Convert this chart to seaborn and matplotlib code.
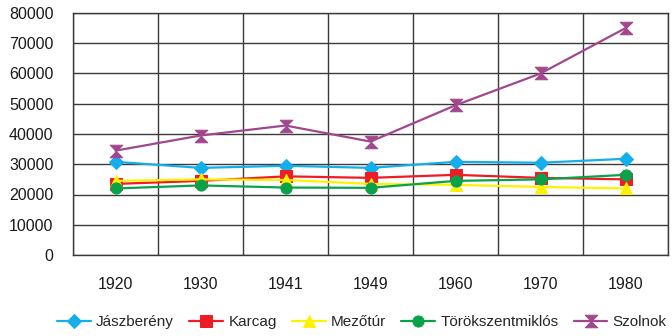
import numpy as np
import pandas as pd
import matplotlib
matplotlib.use("Agg")
import matplotlib.pyplot as plt
from matplotlib.path import Path
import seaborn as sns

years = ["1920", "1930", "1941", "1949", "1960", "1970", "1980"]
jaszbereny = [30800, 28800, 29500, 28800, 30800, 30500, 31800]
karcag = [23500, 24500, 26000, 25500, 26500, 25500, 25000]
mezotur = [24500, 25000, 24800, 23500, 23200, 22500, 22000]
torokszentmiklos = [22000, 23000, 22300, 22200, 24500, 25000, 26500]
szolnok = [34500, 39500, 42800, 37500, 49500, 60000, 75000]

series_names = ["Jászberény", "Karcag", "Mezőtúr", "Törökszentmiklós", "Szolnok"]
series_values = [jaszbereny, karcag, mezotur, torokszentmiklos, szolnok]

# hourglass marker: two triangles meeting tip to tip
hourglass = Path([(-1, 1), (1, 1), (-1, -1), (1, -1), (-1, 1)],
                 [Path.MOVETO, Path.LINETO, Path.LINETO, Path.LINETO, Path.CLOSEPOLY])

colors = ["#14AEEB", "#EE1C25", "#FFF200", "#0AA14B", "#A0478D"]
markers = ["D", "s", "^", "o", hourglass]
msizes = [7.5, 8, 8.5, 8, 9]

rows = []
for name, vals in zip(series_names, series_values):
    for i, (yr, v) in enumerate(zip(years, vals)):
        rows.append({"pos": i, "year": yr, "value": v, "city": name})
df = pd.DataFrame(rows)

sns.set_style("white")
plt.rcParams["font.family"] = ["Liberation Sans Narrow", "Liberation Sans", "DejaVu Sans"]

fig = plt.figure(figsize=(6.72, 3.36), dpi=100)
ax = fig.add_axes([73 / 672, 1 - 255 / 336, (668 - 73) / 672, (255 - 13) / 336])

for name, col, mk, ms in zip(series_names, colors, markers, msizes):
    sub = df[df["city"] == name]
    sns.lineplot(data=sub, x="pos", y="value", ax=ax, color=col, marker=mk,
                 markersize=ms, markeredgecolor=col, linewidth=1.6, label=name,
                 legend=False)

ax.set_xlim(-0.5, len(years) - 0.5)
ax.set_ylim(0, 80000)
ax.set_yticks(np.arange(0, 80001, 10000))
ax.set_xticks(range(len(years)))
ax.set_xticklabels(years)
ax.set_xticks(np.arange(-0.5, len(years), 1.0), minor=True)
ax.set_xlabel("")
ax.set_ylabel("")

grid_col = "#3a3a3a"
ax.grid(False)
ax.yaxis.grid(True, color=grid_col, linewidth=1.0)
ax.xaxis.grid(True, which="minor", color=grid_col, linewidth=1.0)
ax.set_axisbelow(True)
for s in ax.spines.values():
    s.set_color(grid_col)
    s.set_linewidth(1.0)

ax.tick_params(axis="x", which="major", length=0, pad=16, labelsize=11.5, labelcolor="#1a1a1a")
ax.tick_params(axis="x", which="minor", length=3, width=1.0, color=grid_col, direction="out")
ax.tick_params(axis="y", length=3, width=1.0, color=grid_col, direction="out", pad=11,
               labelsize=11.5, labelcolor="#1a1a1a")

handles, labels = ax.get_legend_handles_labels()
fig.legend(handles, labels, loc="center", bbox_to_anchor=(362 / 672, 1 - 322 / 336),
           ncol=5, frameon=False, fontsize=11, handlelength=2.2, handletextpad=0.35,
           columnspacing=1.0, borderaxespad=0)

fig.savefig("out.png", dpi=100)
